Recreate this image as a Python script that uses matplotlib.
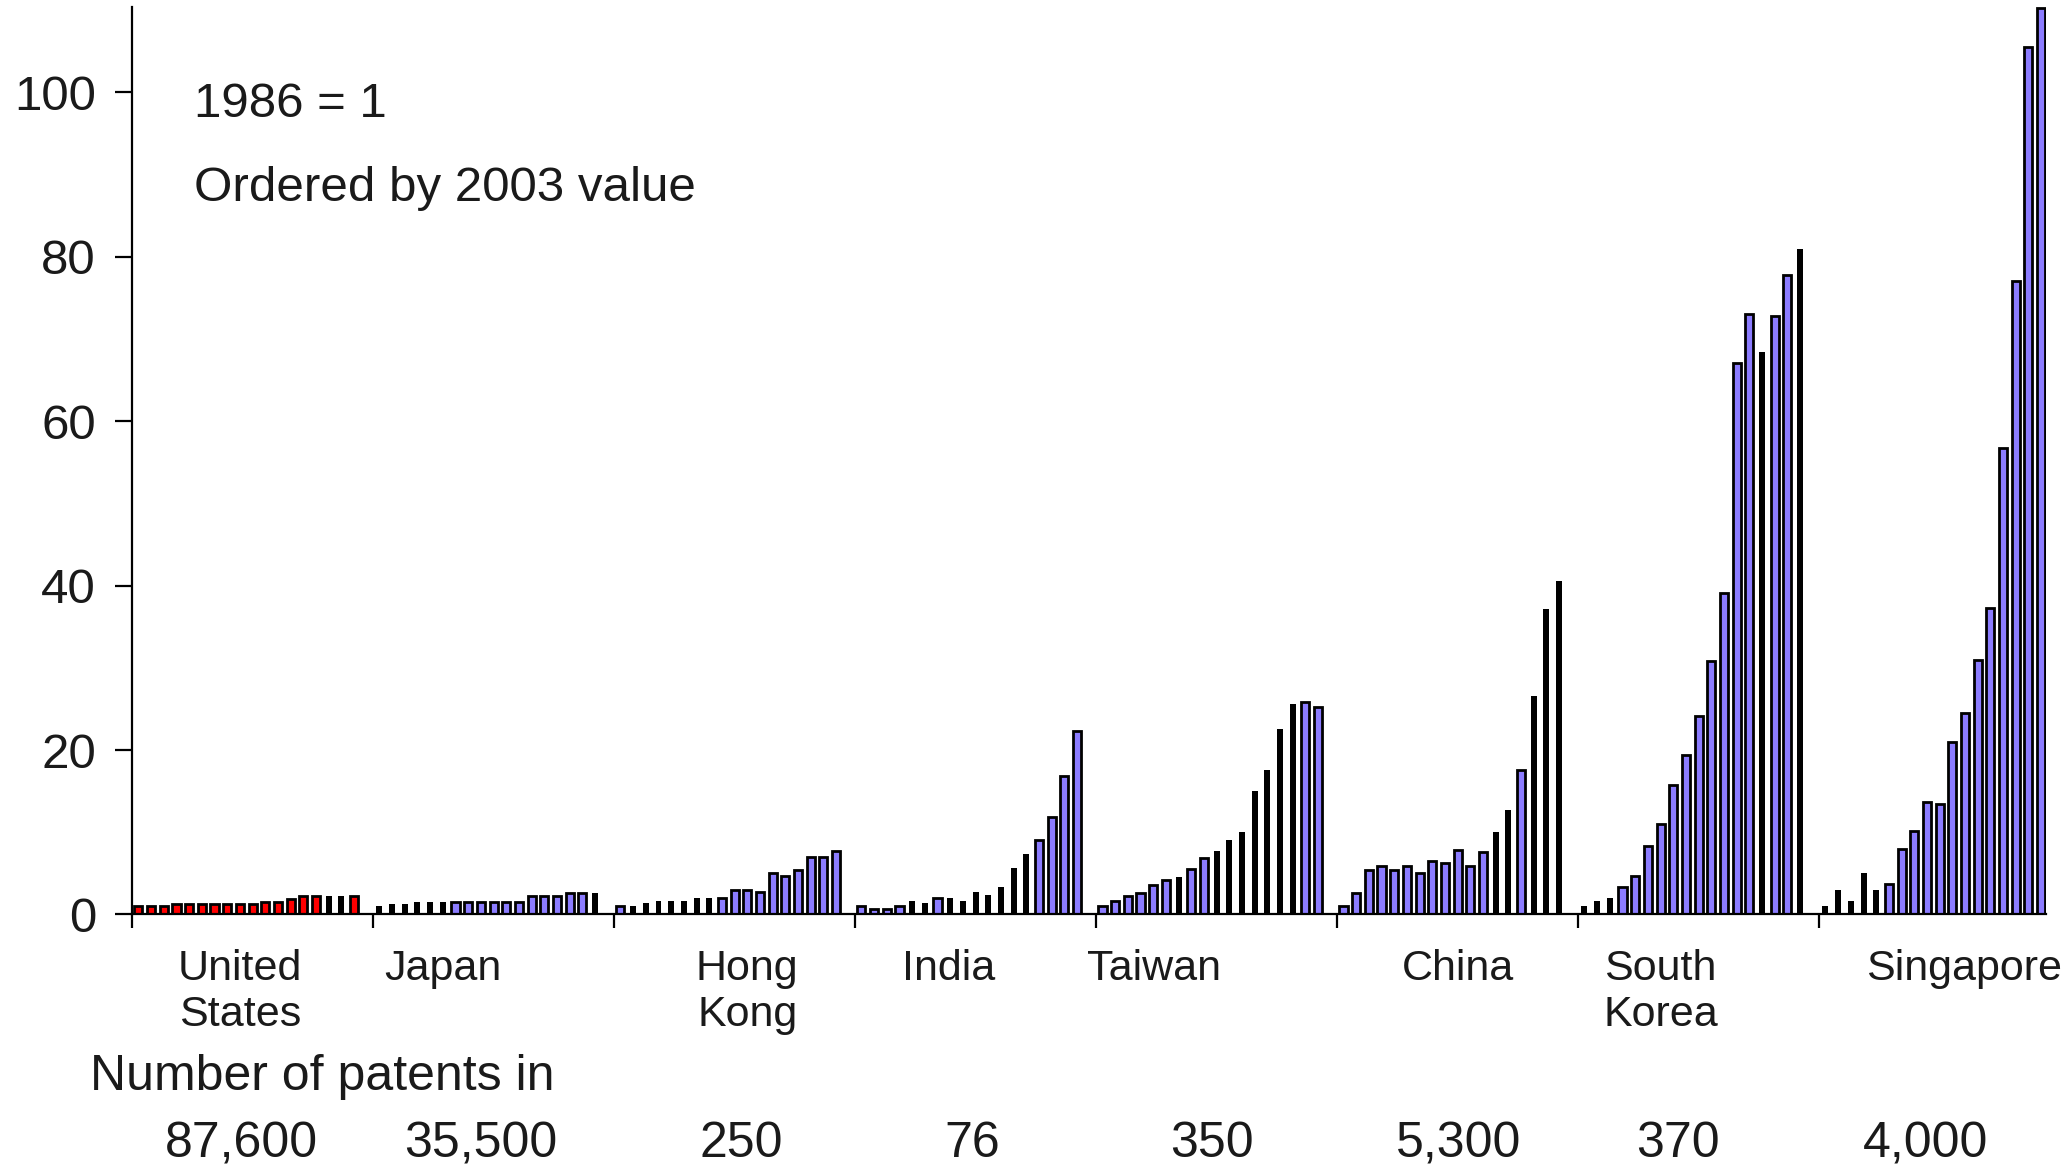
import numpy as np
import matplotlib
matplotlib.use('Agg')
import matplotlib.pyplot as plt
import matplotlib.transforms as mtransforms

plt.rcParams['font.family'] = ['Liberation Sans', 'DejaVu Sans']

# 資料：1986 = 1，每組 18 年 (1986-2003)
countries = ['United\nStates', 'Japan', 'Hong\nKong', 'India', 'Taiwan', 'China', 'South\nKorea', 'Singapore']
patents_2003 = ['87,600', '35,500', '250', '76', '350', '5,300', '370', '4,000']

us = [1.0, 1.0, 1.0, 1.3, 1.3, 1.3, 1.3, 1.3, 1.3, 1.3, 1.55, 1.55, 1.9, 2.3, 2.3, 2.3, 2.3, 2.3]
japan = [1.0, 1.3, 1.3, 1.55, 1.55, 1.55, 1.55, 1.55, 1.55, 1.55, 1.55, 1.55, 2.3, 2.3, 2.3, 2.6, 2.6, 2.6]
hong_kong = [1.0, 1.0, 1.37, 1.6, 1.6, 1.6, 2.0, 2.0, 2.0, 2.95, 2.95, 2.7, 5.0, 4.65, 5.4, 6.95, 6.95, 7.7]
india = [1.0, 0.65, 0.65, 1.0, 1.6, 1.37, 2.0, 2.0, 1.6, 2.7, 2.33, 3.3, 5.6, 7.3, 9.0, 11.8, 16.8, 22.3]
taiwan = [1.0, 1.58, 2.3, 2.67, 3.64, 4.25, 4.6, 5.58, 6.92, 7.7, 9.0, 10.0, 15.0, 17.6, 22.6, 25.6, 25.9, 25.3]
china = [1.0, 2.67, 5.4, 5.95, 5.4, 5.95, 5.0, 6.55, 6.3, 7.9, 5.95, 7.65, 10.0, 12.7, 17.6, 26.6, 37.2, 40.6]
korea = [1.0, 1.64, 2.0, 3.36, 4.7, 8.3, 11.0, 15.7, 19.4, 24.1, 30.8, 39.1, 67.1, 73.1, 68.4, 72.8, 77.8, 81.0]
singapore = [1.0, 3.0, 1.64, 5.07, 3.0, 3.7, 8.0, 10.1, 13.7, 13.4, 21.0, 24.5, 31.0, 37.3, 56.8, 77.1, 105.5, 110.3]
values = [us, japan, hong_kong, india, taiwan, china, korea, singapore]

# 每根柱的類別：R 紅、B 藍、K 黑
bar_codes = [
    'RRRRRRRRRRRRRRRKKR',
    'KKKKKKBBBBBBBBBBBK',
    'BKKKKKKKBBBBBBBBBB',
    'BBBBKKBKKKKKKKBBBB',
    'BBBBBBKBBKKKKKKKBB',
    'BBBBBBBBBBBBKKBKKK',
    'KKKBBBBBBBBBBBKBBK',
    'KKKKKBBBBBBBBBBBBB',
]

# 版面
group_len = 19
label_x = [8.5, 24.5, 48.5, 64.4, 80.6, 104.5, 120.5, 144.4]
number_x = [8.6, 27.5, 48.0, 66.2, 85.1, 104.6, 121.9, 141.4]
fill = {'R': '#ff0000', 'B': '#8c7cff'}
text_color = '#1a1a1a'

fig = plt.figure(figsize=(20.7, 11.67), dpi=100)
ax = fig.add_axes([0.0638, 0.2164, 0.9247, 0.7776])

for g, (vals, codes) in enumerate(zip(values, bar_codes)):
    x = g * group_len + np.arange(len(vals)) + 0.5
    vals = np.array(vals)
    codes = np.array(list(codes))
    k = codes == 'K'
    ax.bar(x[k], vals[k], width=0.47, color='black', linewidth=0)
    for c in ('R', 'B'):
        m = codes == c
        if m.any():
            ax.bar(x[m], vals[m], width=0.64, color=fill[c],
                   edgecolor='black', linewidth=2.0)

ax.set_xlim(0, 150.9)
ax.set_ylim(0, 110.4)
ax.set_yticks(np.arange(0, 101, 20))
ax.set_xticks(np.arange(0, 8 * group_len, group_len))
ax.set_xticklabels([])
ax.tick_params(axis='y', direction='out', length=12, width=1.6, pad=14,
               labelsize=35.5, labelcolor=text_color)
ax.tick_params(axis='x', direction='out', length=10, width=1.6)
for s in ('top', 'right'):
    ax.spines[s].set_visible(False)
for s in ('left', 'bottom'):
    ax.spines[s].set_linewidth(1.6)

ax.text(0.0324, 0.893, '1986 = 1', transform=ax.transAxes, fontsize=35.5,
        color=text_color, va='center', ha='left')
ax.text(0.0324, 0.80, 'Ordered by 2003 value', transform=ax.transAxes,
        fontsize=35.5, color=text_color, va='center', ha='left')

trans = mtransforms.blended_transform_factory(ax.transData, fig.transFigure)
row_y = [0.1697, 0.1300]
for name, lx in zip(countries, label_x):
    for line, ly in zip(name.split('\n'), row_y):
        fig.text(lx, ly, line, transform=trans, fontsize=31, color=text_color,
                 ha='center', va='center')
fig.text(0.0435, 0.077, 'Number of patents in', fontsize=36, color=text_color,
         ha='left', va='center')
for num, nx in zip(patents_2003, number_x):
    fig.text(nx, 0.0195, num, transform=trans, fontsize=36, color=text_color,
             ha='center', va='center')

plt.savefig('out.png', dpi=100)
plt.close()
